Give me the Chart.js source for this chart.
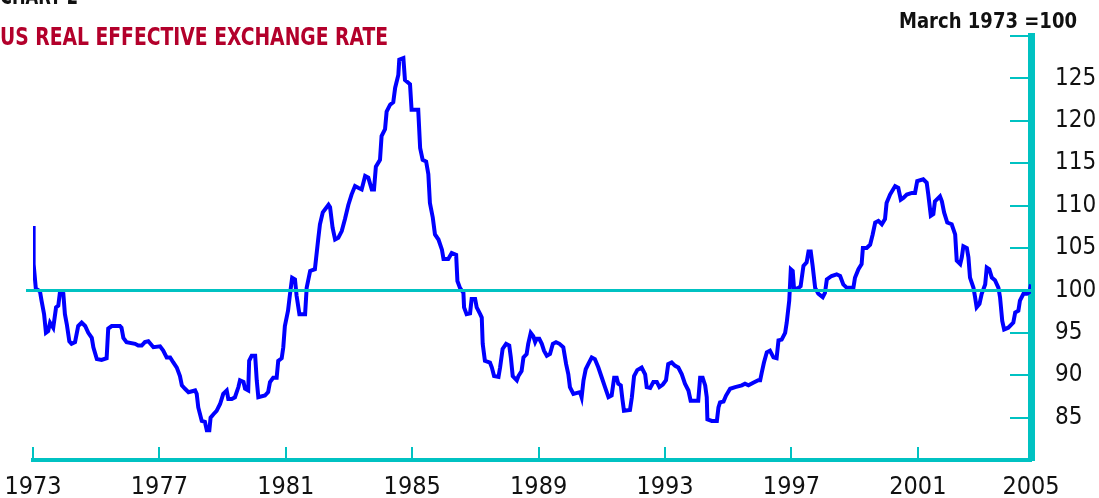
<!DOCTYPE html>
<html><head><meta charset="utf-8">
<script src="https://cdn.jsdelivr.net/npm/chart.js@4.4.1/dist/chart.umd.min.js"></script>
<style>
html,body{margin:0;padding:0;background:#fff;overflow:hidden;}
#wrap{position:relative;width:1099px;height:498px;}
canvas{position:absolute;left:0;top:0;}
.t{position:absolute;white-space:nowrap;font-family:"DejaVu Sans Condensed","DejaVu Sans",sans-serif;font-weight:bold;line-height:1;transform-origin:0 0;}
#chartno{left:0;top:-16px;font-size:24.5px;color:#111;}
#title{left:0;top:25px;font-size:24.5px;color:#b3002b;}
#unit{left:899px;top:10px;font-size:22px;color:#111;}
</style></head>
<body><div id="wrap">
<canvas id="c" width="1099" height="498"></canvas>
<div class="t" id="chartno">CHART 2</div>
<div class="t" id="title">US REAL EFFECTIVE EXCHANGE RATE</div>
<div class="t" id="unit">March 1973 =100</div>
</div>
<script>
// ---- data ----
const years = [
1973.01,1973.02,1973.09,1973.22,1973.27,1973.35,1973.41,1973.48,1973.54,1973.64,1973.73,1973.80,1973.85,1973.96,
1974.01,1974.07,1974.15,1974.22,1974.33,1974.43,1974.54,1974.65,1974.75,1974.86,1974.91,
1975.02,1975.17,1975.33,1975.38,1975.49,1975.75,1975.80,1975.86,1975.96,
1976.23,1976.33,1976.44,1976.54,1976.65,1976.81,
1977.02,1977.12,1977.23,1977.34,1977.44,1977.55,1977.65,1977.71,1977.81,1977.92,
1978.13,1978.18,1978.23,1978.34,1978.44,1978.50,1978.58,1978.62,1978.71,1978.81,1978.92,
1979.02,1979.13,1979.18,1979.29,1979.39,1979.50,1979.55,1979.66,1979.71,1979.81,1979.84,1979.92,
1980.03,1980.08,1980.13,1980.34,1980.44,1980.50,1980.60,1980.71,1980.76,1980.87,1980.92,1980.97,
1981.07,1981.13,1981.20,1981.29,1981.34,1981.43,1981.61,1981.66,1981.77,1981.92,
1982.03,1982.08,1982.17,1982.35,1982.40,1982.48,1982.56,1982.66,1982.77,1982.87,1982.98,
1983.08,1983.19,1983.29,1983.40,1983.51,1983.61,1983.72,1983.79,1983.85,1983.98,
1984.03,1984.14,1984.19,1984.30,1984.40,1984.46,1984.56,1984.59,1984.72,1984.77,1984.93,1984.98,
1985.19,1985.25,1985.33,1985.44,1985.51,1985.56,1985.65,1985.72,1985.83,1985.94,1985.99,
1986.14,1986.25,1986.39,1986.43,1986.51,1986.62,1986.64,1986.72,1986.83,1986.88,1986.99,
1987.04,1987.15,1987.20,1987.23,1987.30,1987.46,1987.52,1987.59,1987.73,1987.78,1987.86,1987.97,
1988.07,1988.12,1988.18,1988.31,1988.36,1988.46,1988.52,1988.62,1988.67,1988.75,1988.83,1988.89,1988.94,
1989.02,1989.10,1989.17,1989.26,1989.36,1989.45,1989.55,1989.66,1989.78,1989.87,1989.94,1989.99,
1990.10,1990.31,1990.36,1990.42,1990.49,1990.57,1990.68,1990.78,1990.89,
1991.00,1991.10,1991.21,1991.31,1991.39,1991.47,1991.52,1991.60,1991.65,1991.70,1991.89,1991.95,
1992.02,1992.12,1992.26,1992.37,1992.42,1992.53,1992.63,1992.74,1992.82,1992.93,
1993.03,1993.10,1993.21,1993.32,1993.42,1993.53,1993.63,1993.74,1993.81,
1994.05,1994.11,1994.19,1994.27,1994.32,1994.34,1994.48,1994.64,1994.69,1994.74,1994.85,1994.93,
1995.06,1995.22,1995.43,1995.53,1995.64,1995.79,1995.95,
1996.01,1996.06,1996.13,1996.22,1996.32,1996.43,1996.53,1996.59,1996.69,1996.80,1996.85,1996.93,1996.98,
1997.04,1997.08,1997.19,1997.29,1997.38,1997.48,1997.54,1997.61,1997.67,1997.75,1997.85,1997.99,
1998.06,1998.12,1998.27,1998.43,1998.54,1998.64,1998.75,1998.96,
1999.01,1999.12,1999.22,1999.26,1999.38,1999.49,1999.57,1999.65,1999.75,1999.86,1999.96,
2000.01,2000.12,2000.28,2000.38,2000.46,2000.54,2000.65,2000.81,2000.91,2000.98,
2001.17,2001.28,2001.33,2001.41,2001.49,2001.54,2001.70,2001.76,2001.83,2001.93,
2002.07,2002.18,2002.23,2002.34,2002.39,2002.44,2002.55,2002.60,2002.65,2002.76,2002.81,2002.86,2002.95,
2003.02,2003.13,2003.18,2003.26,2003.34,2003.44,2003.55,2003.60,2003.67,2003.73,2003.86,
2004.02,2004.08,2004.18,2004.23,2004.34,2004.45,2004.53,2004.58
];
const realEffectiveRate = [
107.6,103.1,100.2,99.9,98.8,97.2,95.0,95.2,96.2,95.6,98.0,98.2,99.7,99.6,
97.2,96.0,94.0,93.7,93.9,95.8,96.2,95.8,95.0,94.4,93.3,
91.9,91.8,92.0,95.5,95.8,95.8,95.6,94.4,93.9,
93.7,93.5,93.5,93.9,94.0,93.3,
93.4,92.9,92.1,92.1,91.5,90.9,89.9,88.8,88.4,88.0,
88.2,87.8,86.2,84.6,84.5,83.5,83.5,85.0,85.4,85.8,86.6,
87.8,88.2,87.2,87.2,87.4,88.6,89.4,89.2,88.4,88.2,91.7,92.3,
92.3,89.4,87.4,87.6,88.0,89.2,89.7,89.7,91.7,92.0,93.3,95.8,
97.6,99.5,101.5,101.3,99.4,97.2,97.2,100.3,102.3,102.5,
106.2,107.8,109.2,110.1,109.8,107.4,106.0,106.2,107.0,108.4,110.1,
111.3,112.3,112.1,111.9,113.5,113.3,111.9,111.9,114.6,115.4,
118.2,119.0,121.1,121.9,122.2,123.9,125.4,127.2,127.4,124.8,124.3,121.3,
121.3,116.8,115.4,115.2,113.7,110.3,108.6,106.6,106.0,104.8,103.7,
103.7,104.4,104.2,101.1,100.3,99.7,98.0,97.2,97.3,99.0,99.0,
98.0,97.2,96.8,93.7,91.7,91.5,90.9,89.9,89.8,90.9,93.1,93.7,
93.5,92.1,89.9,89.4,89.9,90.5,92.1,92.5,93.7,95.0,94.6,93.9,94.3,
94.3,93.7,92.9,92.3,92.5,93.7,93.9,93.7,93.3,91.3,90.1,88.6,
87.8,88.0,87.4,89.4,90.7,91.3,92.1,91.9,90.9,
89.7,88.6,87.4,87.6,89.7,89.7,89.0,88.8,87.2,85.8,85.9,87.4,
89.9,90.6,90.9,90.1,88.6,88.5,89.2,89.2,88.6,88.9,
89.4,91.3,91.5,91.1,90.9,90.1,89.0,88.2,87.0,
87.0,89.7,89.7,88.8,87.4,84.8,84.6,84.6,86.2,86.8,86.9,87.6,
88.4,88.6,88.8,89.0,88.8,89.1,89.4,
89.4,90.3,91.5,92.7,92.9,92.1,92.0,94.1,94.2,95.0,96.2,98.8,102.5,
102.3,100.3,100.2,100.5,102.9,103.3,104.6,104.6,102.9,100.3,99.6,99.2,
99.7,101.3,101.7,101.9,101.7,100.7,100.3,100.3,
101.5,102.5,103.1,105.0,105.0,105.4,106.6,108.0,108.2,107.8,108.4,
110.3,111.3,112.3,112.1,110.7,110.9,111.3,111.5,111.5,112.9,
113.1,112.7,111.3,108.8,109.0,110.5,111.1,110.5,109.2,108.0,
107.8,106.6,103.5,103.1,103.9,105.2,105.0,103.9,101.5,100.3,99.2,98.0,98.4,
99.6,100.7,102.7,102.5,101.5,101.2,100.3,99.2,96.4,95.4,95.6,
96.2,97.4,97.6,98.8,99.6,99.6,99.8,100.7
];
const xTickYears = [1973,1977,1981,1985,1989,1993,1997,2001];
const xEnd = 2004.58;
const xEndLabel = '2005';
const yMin = 80, yMax = 130, yStep = 5;
const baseValue = 100;

// ---- styling ----
const CYAN = '#00c2c2';
const BLUE = '#0000ff';
const TICKFONT = '"DejaVu Sans Condensed", "DejaVu Sans", sans-serif';

const decor = {
  id: 'decor',
  beforeDatasetsDraw(chart) {
    const {ctx, chartArea: a, scales: {x, y}} = chart;
    ctx.save();
    ctx.strokeStyle = CYAN;
    ctx.lineWidth = 2;
    x.ticks.forEach(t => {
      const px = Math.round(x.getPixelForValue(t.value));
      if (px < a.right - 5) {
        ctx.beginPath(); ctx.moveTo(px, a.bottom); ctx.lineTo(px, a.bottom - 13); ctx.stroke();
      }
    });
    y.ticks.forEach(t => {
      if (t.value > yMin) {
        const py = Math.round(y.getPixelForValue(t.value));
        ctx.beginPath(); ctx.moveTo(a.right, py); ctx.lineTo(a.right - 21, py); ctx.stroke();
      }
    });
    ctx.restore();
  },
  afterDatasetsDraw(chart) {
    const {ctx, chartArea: a, scales: {y}} = chart;
    ctx.save();
    ctx.strokeStyle = CYAN;
    ctx.lineWidth = 3;
    const py = y.getPixelForValue(baseValue);
    ctx.beginPath(); ctx.moveTo(a.left - 7, py); ctx.lineTo(a.right, py); ctx.stroke();
    ctx.restore();
  }
};

new Chart(document.getElementById('c'), {
  type: 'line',
  data: {
    datasets: [{
      data: years.map((yr, i) => ({x: yr, y: realEffectiveRate[i]})),
      borderColor: BLUE,
      borderWidth: 4,
      pointRadius: 0,
      tension: 0,
      fill: false
    }]
  },
  options: {
    responsive: false,
    devicePixelRatio: 1,
    animation: false,
    layout: {padding: {left: 33, top: 36, right: 0, bottom: 0}},
    plugins: {legend: {display: false}, tooltip: {enabled: false}, title: {display: false}},
    scales: {
      x: {
        type: 'linear', position: 'bottom', min: 1973, max: xEnd,
        afterBuildTicks: s => { s.ticks = xTickYears.concat([xEnd]).map(v => ({value: v})); },
        afterFit: s => { s.height = 38; s.paddingLeft = 0; s.paddingRight = 0; },
        grid: {display: false, drawTicks: false},
        border: {display: true, color: CYAN, width: 4},
        ticks: {
          autoSkip: false, maxRotation: 0, padding: 12,
          color: '#111', font: {family: TICKFONT, size: 25},
          callback: v => (v === xEnd ? xEndLabel : String(v))
        }
      },
      y: {
        type: 'linear', position: 'right', min: yMin, max: yMax,
        afterFit: s => { s.width = 68; s.paddingTop = 0; s.paddingBottom = 0; },
        grid: {display: false, drawTicks: false},
        border: {display: true, color: CYAN, width: 7},
        ticks: {
          stepSize: yStep, padding: 24,
          color: '#111', font: {family: TICKFONT, size: 24},
          callback: v => (v === yMin || v === yMax ? '' : String(v))
        }
      }
    }
  },
  plugins: [decor]
});

function fitWidth(id, w) {
  const el = document.getElementById(id);
  const r = el.getBoundingClientRect().width;
  if (r > 0) el.style.transform = 'scaleX(' + (w / r) + ')';
}
fitWidth('chartno', 78);
fitWidth('title', 388);
fitWidth('unit', 178);
</script>
</body></html>
